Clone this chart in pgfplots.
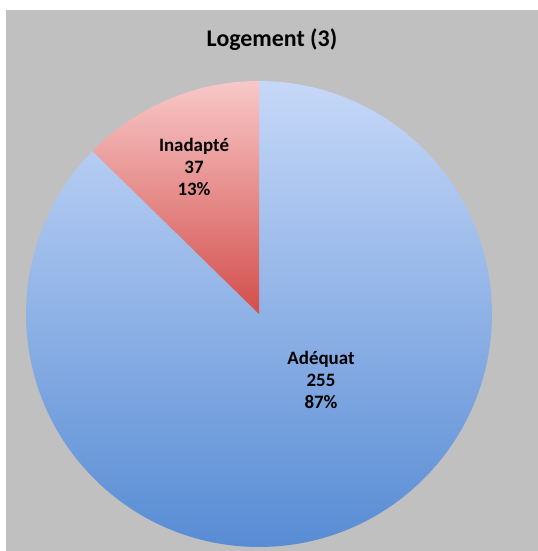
\documentclass[border=0pt]{standalone}
\usepackage{pgfplots}
\usepackage{pgfplotstable}
\usepackage{fontspec}
\setmainfont{Carlito}
\pgfplotsset{compat=1.18}

\definecolor{bg}{HTML}{C0C0C0}
\definecolor{blueT}{HTML}{C6D8F8}
\definecolor{blueM}{HTML}{86AAEE}
\definecolor{blueB}{HTML}{5288D2}
\definecolor{redT}{HTML}{F8C8C8}
\definecolor{redM}{HTML}{F28C8A}
\definecolor{redB}{HTML}{D24E4B}

% Logement (3)
\pgfplotstableread{
label value
Inadapte 37
Adequat 255
}\logement

\begin{document}
\begin{tikzpicture}
\fill[white] (0,0) rectangle (538bp,551bp);
\fill[bg] (6bp,0) rectangle (538bp,541bp);
\pgfplotstablegetelem{0}{value}\of\logement \let\vA\pgfplotsretval
\pgfplotstablegetelem{1}{value}\of\logement \let\vB\pgfplotsretval
\pgfmathsetmacro\tot{\vA+\vB}
\pgfmathsetmacro\angA{360*(\vA/\tot)}
\pgfmathtruncatemacro\pA{round(100*(\vA/\tot))}
\pgfmathtruncatemacro\pB{round(100*(\vB/\tot))}
\begin{axis}[
  at={(0,0)}, anchor=south west,
  scale only axis, width=538bp, height=551bp,
  xmin=0, xmax=538, ymin=0, ymax=551,
  hide axis, clip=false,
]
% Adéquat
\path[top color=blueT, middle color=blueM, bottom color=blueB]
  (axis cs:259,237) -- ++({90+\angA}:233bp) arc[start angle={90+\angA}, end angle=450, radius=233bp] -- cycle;
% Inadapté
\path[top color=redT, middle color=redM, bottom color=redB]
  (axis cs:259,237) -- ++(90:233bp) arc[start angle=90, end angle={90+\angA}, radius=233bp] -- cycle;
\node[font=\bfseries\fontsize{19}{22.5}\selectfont, align=center]
  at (axis cs:194,384) {Inadapté\\\vA\\\pA\%};
\node[font=\bfseries\fontsize{19}{22.5}\selectfont, align=center]
  at (axis cs:321,171) {Adéquat\\\vB\\\pB\%};
\node[font=\bfseries\fontsize{24}{28}\selectfont] at (axis cs:272,511) {Logement (3)};
\end{axis}
\pgfresetboundingbox
\useasboundingbox (0,0) rectangle (538bp,551bp);
\end{tikzpicture}
\end{document}
